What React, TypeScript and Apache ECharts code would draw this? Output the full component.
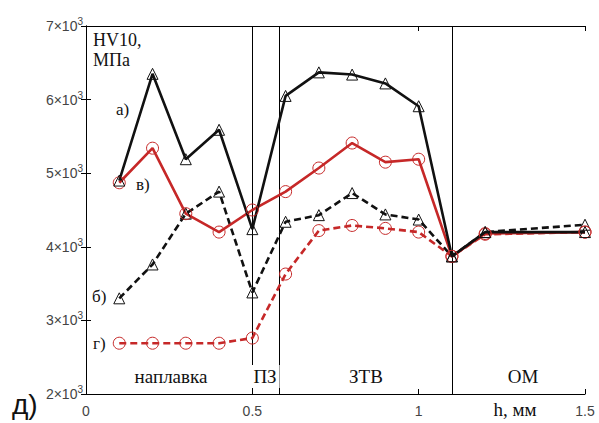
import React, { useEffect, useRef } from "react";
import * as echarts from "echarts";

const xs = [0.1, 0.2, 0.3, 0.4, 0.5, 0.6, 0.7, 0.8, 0.9, 1.0, 1.1, 1.2, 1.5];
const seriesA = [4900, 6350, 5190, 5590, 4240, 6050, 6370, 6340, 6220, 5910, 3870, 4200, 4200];
const seriesV = [4870, 5340, 4450, 4200, 4500, 4750, 5070, 5410, 5150, 5190, 3870, 4180, 4200];
const seriesB = [3300, 3760, 4450, 4750, 3380, 4340, 4430, 4730, 4440, 4370, 3870, 4200, 4300];
const seriesG = [2690, 2690, 2690, 2690, 2760, 3630, 4220, 4290, 4250, 4200, 3870, 4170, 4200];
const boundaries = [0.5, 0.58, 1.1];
const xTicks = [0, 0.5, 1, 1.5];
const yTicks = [2000, 3000, 4000, 5000, 6000, 7000];

const RED = "#c62828";
const SERIF = "'Liberation Serif', 'DejaVu Serif', serif";
const SANS = "'Liberation Sans', Arial, sans-serif";

function pairs(vals: number[]) {
  return xs.map((x, i) => [x, vals[i]]);
}

export default function App() {
  const ref = useRef<HTMLDivElement>(null);
  useEffect(() => {
    if (!ref.current) return;
    const chart = echarts.init(ref.current, undefined, { renderer: "svg" });
    const lineSeries = (name: string, vals: number[], color: string, dashed: boolean, symbol: string, size: number) => ({
      name,
      type: "line",
      data: pairs(vals),
      symbol,
      symbolSize: size,
      showSymbol: true,
      lineStyle: { color, width: 2.6, type: dashed ? [7, 4] : "solid" },
      itemStyle: { color: "rgba(255,255,255,0)", borderColor: color === RED ? RED : "#111", borderWidth: 1 },
      z: 3,
    });
    const textStyle = (t: string, x: number, y: number, size = 15, extra: any = {}) => ({
      type: "text",
      x,
      y,
      z: 10,
      style: { text: t, font: `${size}px ${SERIF}`, fill: "#111", ...extra },
    });
    const region = (t: string, x: number) =>
      textStyle(t, x, 365, 19, { textAlign: "center", backgroundColor: "#fff", padding: [2, 3] });
    chart.setOption({
      animation: false,
      grid: { left: 86, right: 14, top: 26, bottom: 29, containLabel: false },
      xAxis: [
        {
          type: "value",
          min: 0,
          max: 1.5,
          interval: 0.5,
          position: "bottom",
          axisLine: { show: true, lineStyle: { color: "#000", width: 1 } },
          axisTick: { show: true, inside: true, length: 5, lineStyle: { color: "#000" } },
          axisLabel: {
            margin: 10,
            color: "#444",
            fontSize: 14,
            fontFamily: SANS,
            formatter: (v: number) => (xTicks.includes(v) ? String(v) : ""),
          },
          splitLine: { show: false },
        },
        {
          type: "value",
          min: 0,
          max: 1.5,
          interval: 0.5,
          position: "top",
          axisLine: { show: true, lineStyle: { color: "#000", width: 1 } },
          axisTick: { show: true, inside: true, length: 5, lineStyle: { color: "#000" } },
          axisLabel: { show: false },
          splitLine: { show: false },
        },
      ],
      yAxis: [
        {
          type: "value",
          min: 2000,
          max: 7000,
          interval: 1000,
          position: "left",
          axisLine: { show: true, lineStyle: { color: "#000", width: 1 } },
          axisTick: { show: true, inside: true, length: 5, lineStyle: { color: "#000" } },
          axisLabel: {
            margin: 3,
            fontSize: 14,
            formatter: (v: number) => (yTicks.includes(v) ? `{b|${v / 1000}×10}{s|3}` : ""),
            rich: {
              b: { fontSize: 14, color: "#444", fontFamily: SANS },
              s: { fontSize: 10, color: "#444", fontFamily: SANS, padding: [0, 0, 9, 0] },
            },
          },
          splitLine: { show: false },
        },
        {
          type: "value",
          min: 2000,
          max: 7000,
          interval: 1000,
          position: "right",
          axisLine: { show: true, lineStyle: { color: "#000", width: 1 } },
          axisTick: { show: true, inside: true, length: 5, lineStyle: { color: "#000" } },
          axisLabel: { show: false },
          splitLine: { show: false },
        },
      ],
      series: [
        {
          type: "line",
          data: [],
          markLine: {
            silent: true,
            symbol: "none",
            label: { show: false },
            lineStyle: { color: "#000", width: 1, type: "solid" },
            data: boundaries.map((b) => ({ xAxis: b })),
            z: 1,
          },
        },
        lineSeries("б", seriesB, "#111", true, "triangle", 11),
        lineSeries("г", seriesG, RED, true, "circle", 12),
        lineSeries("в", seriesV, RED, false, "circle", 12),
        lineSeries("а", seriesA, "#111", false, "triangle", 11),
      ],
      graphic: [
        textStyle("HV10,", 93, 31, 18),
        textStyle("МПа", 93, 51, 18),
        textStyle("а)", 116, 101, 17),
        textStyle("в)", 136, 176, 17),
        textStyle("б)", 92, 288, 17),
        textStyle("г)", 93, 335, 17),
        region("наплавка", 171),
        region("ПЗ", 265),
        region("ЗТВ", 366),
        region("ОМ", 523),
        textStyle("h, мм", 515, 400, 19, { textAlign: "center" }),
        {
          type: "text",
          x: 12,
          y: 390,
          z: 10,
          style: { text: "д)", font: `28px ${SANS}`, fill: "#111" },
        },
      ],
    });
    return () => chart.dispose();
  }, []);
  return <div ref={ref} style={{ width: 599, height: 423, position: "absolute", left: 0, top: 0 }} />;
}
